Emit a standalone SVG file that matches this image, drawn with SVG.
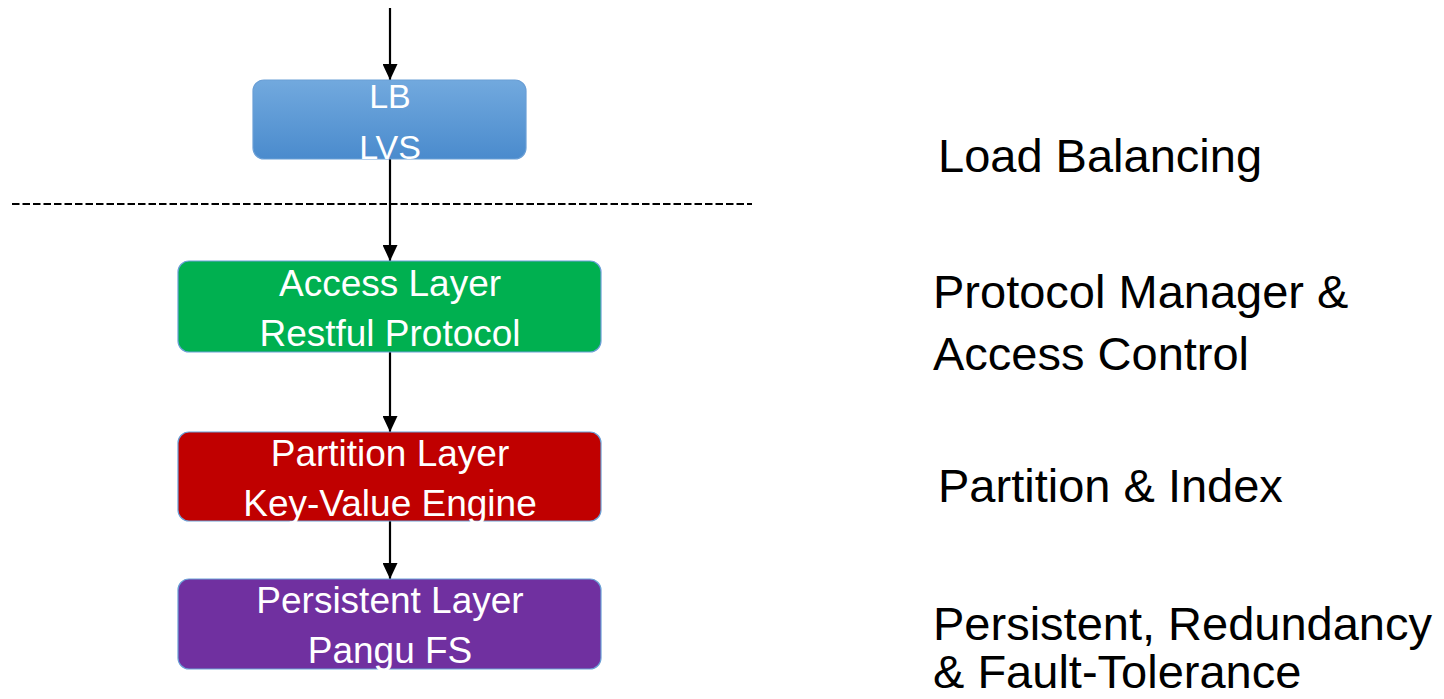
<svg xmlns="http://www.w3.org/2000/svg" width="1444" height="699" viewBox="0 0 1444 699">
  <style>
    .box { stroke: #6a9fd6; stroke-width: 1.2; }
    .boxtext { font-family: "Liberation Sans", Arial, sans-serif; font-size: 37px; fill: #ffffff; text-anchor: middle; }
    .lbtext { font-family: "Liberation Sans", Arial, sans-serif; font-size: 34px; fill: #ffffff; text-anchor: middle; }
    .side { font-family: "Liberation Sans", Arial, sans-serif; font-size: 47px; fill: #000000; }
    .conn { stroke: #000000; stroke-width: 2.2; fill: none; marker-end: url(#arrow); }
  </style>
  <defs>
    <linearGradient id="blueGrad" x1="0" y1="0" x2="0" y2="1">
      <stop offset="0" stop-color="#72a9de"/>
      <stop offset="1" stop-color="#4a8bcd"/>
    </linearGradient>
    <marker id="arrow" viewBox="0 0 16 15" refX="16" refY="7.5" markerWidth="16" markerHeight="15" markerUnits="userSpaceOnUse" orient="auto">
      <path d="M0,0 L16,7.5 L0,15 Z" fill="#000000"/>
    </marker>
  </defs>
  <rect width="1444" height="699" fill="#ffffff"/>

  <g id="connectors">
    <line class="conn" x1="390" y1="8" x2="390" y2="80"/>
    <line class="conn" x1="390" y1="159" x2="390" y2="261"/>
    <line class="conn" x1="390" y1="352" x2="390" y2="432"/>
    <line class="conn" x1="390" y1="521" x2="390" y2="579"/>
  </g>

  <g id="divider">
    <line x1="12" y1="204" x2="752" y2="204" stroke="#000000" stroke-width="1.8" stroke-dasharray="7.5 3"/>
  </g>

  <g id="node-lb">
    <rect class="box" x="253" y="80" width="273" height="79" rx="11" fill="url(#blueGrad)"/>
    <text class="lbtext" x="390" y="108">LB</text>
    <text class="lbtext" x="390" y="159">LVS</text>
  </g>

  <g id="node-access">
    <rect class="box" x="178" y="261" width="423" height="91" rx="11" fill="#00b050"/>
    <text class="boxtext" x="390" y="296">Access Layer</text>
    <text class="boxtext" x="390" y="346">Restful Protocol</text>
  </g>

  <g id="node-partition">
    <rect class="box" x="178" y="432" width="423" height="89" rx="11" fill="#c00000"/>
    <text class="boxtext" x="390" y="466">Partition Layer</text>
    <text class="boxtext" x="390" y="516">Key-Value Engine</text>
  </g>

  <g id="node-persistent">
    <rect class="box" x="178" y="579" width="423" height="90" rx="11" fill="#7030a0"/>
    <text class="boxtext" x="390" y="613">Persistent Layer</text>
    <text class="boxtext" x="390" y="663">Pangu FS</text>
  </g>

  <g id="labels">
    <text class="side" x="938" y="172">Load Balancing</text>
    <text class="side" x="933" y="308">Protocol Manager &amp;</text>
    <text class="side" x="933" y="370">Access Control</text>
    <text class="side" x="938" y="502">Partition &amp; Index</text>
    <text class="side" x="933" y="640">Persistent, Redundancy</text>
    <text class="side" x="933" y="688">&amp; Fault-Tolerance</text>
  </g>
</svg>
